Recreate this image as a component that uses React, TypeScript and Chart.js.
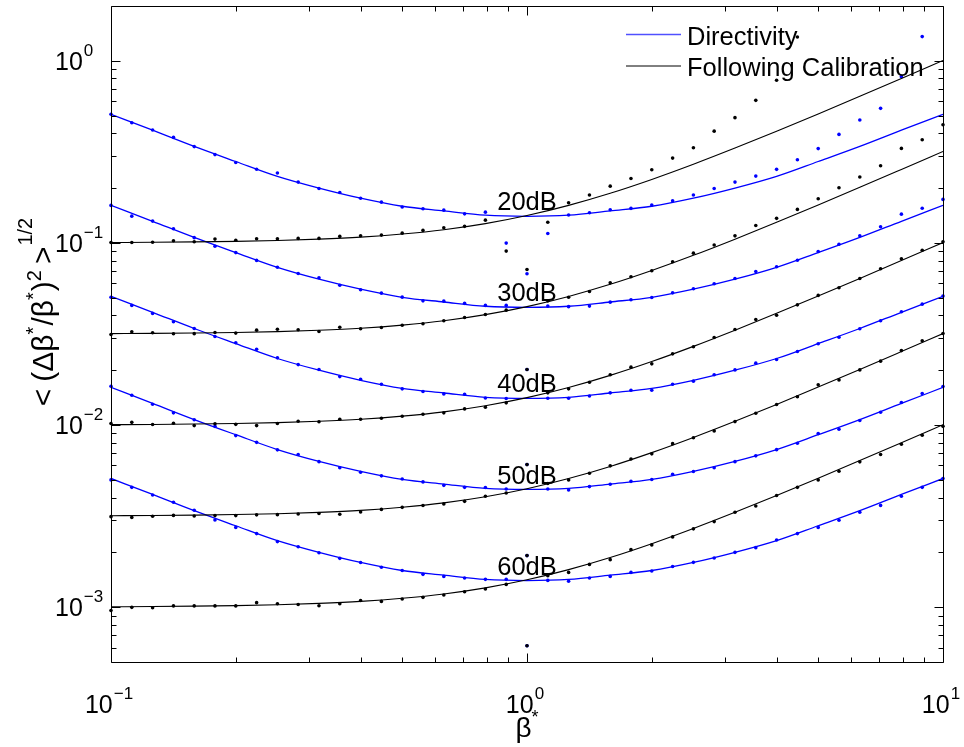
import React, { useEffect, useRef } from "react";
import { Chart, registerables } from "chart.js";

Chart.register(...registerables);

const FONT = '"Liberation Sans", Arial, Helvetica, sans-serif';

// ---------- axis ranges & tick labels ----------
const X_MIN = 0.1;
const X_MAX = 10;
const Y_MIN = 0.0005;
const Y_MAX = 2;
const X_MAJOR = [0.1, 1, 10];
const X_EXP = ["\u22121", "0", "1"];
const Y_MAJOR = [0.001, 0.01, 0.1, 1];
const Y_EXP = ["\u22123", "\u22122", "\u22121", "0"];

// ---------- sample positions ----------
const X_DOTS = [0.1, 0.1122, 0.1259, 0.1413, 0.1585, 0.1778, 0.1995, 0.2239, 0.2512, 0.2818, 0.3162, 0.3548, 0.3981, 0.4467, 0.5012, 0.5623, 0.631, 0.7079, 0.7943, 0.8913, 1, 1.122, 1.259, 1.413, 1.585, 1.778, 1.995, 2.239, 2.512, 2.818, 3.162, 3.548, 3.981, 4.467, 5.012, 5.623, 6.31, 7.079, 7.943, 8.913, 10];
const X_LINE = [0.1, 0.1259, 0.1585, 0.1995, 0.2512, 0.3162, 0.3981, 0.5012, 0.631, 0.7943, 1, 1.259, 1.585, 1.995, 2.512, 3.162, 3.981, 5.012, 6.31, 7.943, 10];

// ---------- Directivity (blue) curves ----------
const BLUE_LINE_20 = [0.509, 0.416, 0.339, 0.28, 0.232, 0.2, 0.176, 0.159, 0.15, 0.142, 0.14, 0.142, 0.15, 0.159, 0.176, 0.2, 0.232, 0.28, 0.339, 0.416, 0.509];
const BLUE_LINE_30 = [0.161, 0.1315, 0.1072, 0.0885, 0.0734, 0.0632, 0.0557, 0.0503, 0.0474, 0.0449, 0.0443, 0.0449, 0.0474, 0.0503, 0.0557, 0.0632, 0.0734, 0.0885, 0.1072, 0.1315, 0.161];
const BLUE_LINE_40 = [0.0509, 0.0416, 0.0339, 0.028, 0.0232, 0.02, 0.0176, 0.0159, 0.015, 0.0142, 0.014, 0.0142, 0.015, 0.0159, 0.0176, 0.02, 0.0232, 0.028, 0.0339, 0.0416, 0.0509];
const BLUE_LINE_50 = [0.0161, 0.01315, 0.01072, 0.00885, 0.00734, 0.00632, 0.00557, 0.00503, 0.00474, 0.00449, 0.00443, 0.00449, 0.00474, 0.00503, 0.00557, 0.00632, 0.00734, 0.00885, 0.01072, 0.01315, 0.0161];
const BLUE_LINE_60 = [0.00509, 0.00416, 0.00339, 0.0028, 0.00232, 0.002, 0.00176, 0.00159, 0.0015, 0.00142, 0.0014, 0.00142, 0.0015, 0.00159, 0.00176, 0.002, 0.00232, 0.0028, 0.00339, 0.00416, 0.00509];

// ---------- Following Calibration (black) curves ----------
const BLACK_LINE_20 = [0.1005, 0.1008, 0.1013, 0.102, 0.1031, 0.1049, 0.1076, 0.1119, 0.1182, 0.1277, 0.1414, 0.1608, 0.1874, 0.2232, 0.2704, 0.3317, 0.4105, 0.5111, 0.6388, 0.8006, 1.005];
const BLACK_LINE_30 = [0.03178, 0.03187, 0.03203, 0.03225, 0.0326, 0.03317, 0.03402, 0.03538, 0.03738, 0.04038, 0.04471, 0.05085, 0.05926, 0.07058, 0.0855, 0.1049, 0.1298, 0.1616, 0.202, 0.2532, 0.3178];
const BLACK_LINE_40 = [0.01005, 0.01008, 0.01013, 0.0102, 0.01031, 0.01049, 0.01076, 0.01119, 0.01182, 0.01277, 0.01414, 0.01608, 0.01874, 0.02232, 0.02704, 0.03317, 0.04105, 0.05111, 0.06388, 0.08006, 0.1005];
const BLACK_LINE_50 = [0.003178, 0.003187, 0.003203, 0.003225, 0.00326, 0.003317, 0.003402, 0.003538, 0.003738, 0.004038, 0.004471, 0.005085, 0.005926, 0.007058, 0.00855, 0.01049, 0.01298, 0.01616, 0.0202, 0.02532, 0.03178];
const BLACK_LINE_60 = [0.001005, 0.001008, 0.001013, 0.00102, 0.001031, 0.001049, 0.001076, 0.001119, 0.001182, 0.001277, 0.001414, 0.001608, 0.001874, 0.002232, 0.002704, 0.003317, 0.004105, 0.005111, 0.006388, 0.008006, 0.01005];

// ---------- simulated points (blue) ----------
const BLUE_DOTS_20 = [0.509, 0.457, 0.417, 0.38, 0.338, 0.3055, 0.2767, 0.2541, 0.2421, 0.2158, 0.1991, 0.1892, 0.176, 0.1675, 0.1574, 0.1542, 0.1514, 0.1445, 0.1476, 0.0998, 0.000614, 0.1127, 0.1425, 0.1466, 0.1521, 0.1549, 0.1614, 0.1706, 0.1832, 0.1991, 0.2158, 0.2328, 0.2535, 0.2864, 0.3296, 0.3945, 0.4732, 0.5483, 0.8185, 1.358, 3.5];
const BLUE_DOTS_30 = [0.1607, 0.1403, 0.1318, 0.1197, 0.1069, 0.0959, 0.0885, 0.0802, 0.0736, 0.0679, 0.0644, 0.0586, 0.0553, 0.053, 0.0504, 0.0481, 0.0479, 0.0466, 0.0454, 0.0454, 0.0678, 0.045, 0.0447, 0.045, 0.0473, 0.0488, 0.0502, 0.0532, 0.056, 0.0597, 0.0638, 0.0697, 0.074, 0.0804, 0.0897, 0.0984, 0.1094, 0.1227, 0.1439, 0.1552, 0.1734];
const BLUE_DOTS_40 = [0.05035, 0.04539, 0.04102, 0.0369, 0.03388, 0.03062, 0.02831, 0.02606, 0.02339, 0.02148, 0.02018, 0.01845, 0.01786, 0.01675, 0.01581, 0.01528, 0.01483, 0.01476, 0.01409, 0.014, 0.0202, 0.01403, 0.01403, 0.01445, 0.01503, 0.01552, 0.01552, 0.01675, 0.01742, 0.01888, 0.02009, 0.02188, 0.02291, 0.02535, 0.02793, 0.03034, 0.03381, 0.03741, 0.04188, 0.04613, 0.05105];
const BLUE_DOTS_50 = [0.01633, 0.01459, 0.013, 0.01167, 0.01069, 0.00984, 0.00875, 0.008035, 0.007311, 0.006887, 0.006295, 0.005834, 0.005508, 0.00526, 0.005058, 0.004875, 0.004667, 0.00455, 0.004539, 0.004457, 0.00607, 0.004457, 0.004406, 0.004592, 0.004732, 0.004909, 0.005023, 0.00537, 0.005559, 0.005834, 0.006295, 0.006776, 0.007328, 0.007943, 0.008974, 0.009484, 0.01059, 0.01175, 0.0133, 0.01489, 0.01629];
const BLUE_DOTS_60 = [0.005, 0.00455, 0.00413, 0.003767, 0.003404, 0.003013, 0.002742, 0.002535, 0.002291, 0.002148, 0.001991, 0.001854, 0.001758, 0.001656, 0.001589, 0.001514, 0.001476, 0.001445, 0.001422, 0.001422, 0.00192, 0.001403, 0.001387, 0.001445, 0.001476, 0.001552, 0.001581, 0.001671, 0.001762, 0.001862, 0.002, 0.002123, 0.002339, 0.002535, 0.002742, 0.002999, 0.003319, 0.003622, 0.004064, 0.00455, 0.005082];

// ---------- simulated points (black) ----------
const BLACK_DOTS_20 = [0.1005, 0.1006, 0.1008, 0.1028, 0.1016, 0.105, 0.1035, 0.1054, 0.1054, 0.1059, 0.1059, 0.1086, 0.1096, 0.1104, 0.1132, 0.1172, 0.1211, 0.1233, 0.1334, 0.0902, 0.000614, 0.13, 0.1663, 0.1832, 0.2051, 0.2259, 0.2523, 0.2924, 0.3334, 0.4111, 0.4875, 0.6067, 0.7816, 1.352, 2.5, 3.4, 4.5, 6, 8, 10, 12];
const BLACK_DOTS_30 = [0.03141, 0.03251, 0.03214, 0.0317, 0.03177, 0.03221, 0.03199, 0.03319, 0.03357, 0.03334, 0.03266, 0.03443, 0.03381, 0.03436, 0.03532, 0.03597, 0.03741, 0.03899, 0.04046, 0.04276, 0.0715, 0.04808, 0.05035, 0.05408, 0.06039, 0.06516, 0.07031, 0.07889, 0.0879, 0.0975, 0.1094, 0.1247, 0.1365, 0.1528, 0.175, 0.2009, 0.2301, 0.2655, 0.3304, 0.369, 0.4457];
const BLACK_DOTS_40 = [0.01019, 0.01035, 0.01007, 0.01023, 0.00993, 0.01016, 0.01009, 0.00993, 0.01019, 0.0105, 0.01042, 0.01076, 0.01076, 0.01089, 0.01117, 0.01146, 0.01167, 0.01227, 0.01253, 0.01324, 0.0202, 0.01503, 0.01581, 0.01718, 0.01888, 0.0208, 0.02168, 0.0246, 0.02692, 0.03027, 0.0335, 0.03802, 0.04009, 0.04571, 0.05152, 0.05675, 0.06383, 0.07211, 0.08185, 0.0912, 0.1016];
const BLACK_DOTS_50 = [0.003141, 0.003112, 0.003155, 0.003192, 0.00317, 0.003184, 0.003184, 0.003214, 0.003221, 0.003251, 0.003266, 0.003236, 0.003334, 0.003443, 0.003532, 0.003614, 0.00369, 0.003811, 0.004064, 0.004236, 0.006067, 0.004775, 0.005, 0.005433, 0.00597, 0.006516, 0.00695, 0.007907, 0.008511, 0.00929, 0.01045, 0.01161, 0.01297, 0.01429, 0.01663, 0.0177, 0.02009, 0.02244, 0.02564, 0.02904, 0.03184];
const BLACK_DOTS_60 = [0.000959, 0.000998, 0.000993, 0.001016, 0.001016, 0.001016, 0.001016, 0.001059, 0.001045, 0.001035, 0.001019, 0.001045, 0.001089, 0.001076, 0.001109, 0.001132, 0.001167, 0.001216, 0.001259, 0.001334, 0.001919, 0.001489, 0.001552, 0.001718, 0.001824, 0.00207, 0.002198, 0.002432, 0.002692, 0.002951, 0.003319, 0.003597, 0.004102, 0.00455, 0.005, 0.005572, 0.006281, 0.006887, 0.007852, 0.00879, 0.00984];

// ---------- annotations ----------
const DB_LABELS = ["20dB", "30dB", "40dB", "50dB", "60dB"];
const DB_LABEL_X = 1;
const DB_LABEL_Y = [0.151, 0.0477, 0.0151, 0.00477, 0.00151];
const LEGEND_LABELS = ["Directivity", "Following Calibration"];
const BLUE = "#0000ff";
const BLACK = "#000000";

const pts = (xs: number[], ys: number[]) => xs.map((x, i) => ({ x, y: ys[i] }));

function logTicks(min: number, max: number) {
  const out: { v: number; major: boolean }[] = [];
  const e0 = Math.floor(Math.log10(min));
  const e1 = Math.ceil(Math.log10(max));
  for (let e = e0; e <= e1; e++) {
    for (let m = 1; m < 10; m++) {
      const v = m * Math.pow(10, e);
      if (v >= min * 1.0001 && v <= max * 0.9999) out.push({ v, major: m === 1 });
      else if (m === 1 && Math.abs(v - min) / min < 1e-4) out.push({ v, major: true });
      else if (m === 1 && Math.abs(v - max) / max < 1e-4) out.push({ v, major: true });
    }
  }
  return out;
}

function drawPow(ctx: CanvasRenderingContext2D, x: number, baseline: number, exp: string, align: "center" | "left") {
  ctx.font = `25px ${FONT}`;
  const w1 = ctx.measureText("10").width;
  ctx.font = `17px ${FONT}`;
  const w2 = ctx.measureText(exp).width;
  const x0 = align === "center" ? x - (w1 + w2 + 1) / 2 : x;
  ctx.font = `25px ${FONT}`;
  ctx.fillText("10", x0, baseline);
  ctx.font = `17px ${FONT}`;
  ctx.fillText(exp, x0 + w1 + 1, baseline - 14);
}

// pieces: [text, font size, baseline shift, extra space after]
function drawPieces(ctx: CanvasRenderingContext2D, pieces: [string, number, number, number][], cx: number, baseline: number) {
  let total = 0;
  for (const [t, size, , gap] of pieces) {
    ctx.font = `${size}px ${FONT}`;
    total += ctx.measureText(t).width + gap;
  }
  let x = cx - total / 2;
  for (const [t, size, dy, gap] of pieces) {
    ctx.font = `${size}px ${FONT}`;
    ctx.fillText(t, x, baseline + dy);
    x += ctx.measureText(t).width + gap;
  }
}

const decor = {
  id: "decor",
  afterDraw(chart: any) {
    const ctx: CanvasRenderingContext2D = chart.ctx;
    const a = chart.chartArea;
    const xs = chart.scales.x;
    const ys = chart.scales.y;
    const L = Math.floor(a.left) + 0.5;
    const R = Math.floor(a.right) + 0.5;
    const T = Math.floor(a.top) + 0.5;
    const B = Math.floor(a.bottom) + 0.5;
    ctx.save();
    ctx.strokeStyle = "#000";
    ctx.lineWidth = 1;
    ctx.beginPath();
    ctx.rect(L, T, R - L, B - T);
    ctx.stroke();

    ctx.beginPath();
    for (const t of logTicks(X_MIN, X_MAX)) {
      const p = Math.round(xs.getPixelForValue(t.v)) + 0.5;
      const len = t.major ? 9 : 5;
      ctx.moveTo(p, B);
      ctx.lineTo(p, B - len);
      ctx.moveTo(p, T);
      ctx.lineTo(p, T + len);
    }
    for (const t of logTicks(Y_MIN, Y_MAX)) {
      const p = Math.round(ys.getPixelForValue(t.v)) + 0.5;
      const len = t.major ? 9 : 5;
      ctx.moveTo(L, p);
      ctx.lineTo(L + len, p);
      ctx.moveTo(R, p);
      ctx.lineTo(R - len, p);
    }
    ctx.stroke();

    ctx.fillStyle = "#000";
    ctx.textBaseline = "alphabetic";
    ctx.textAlign = "left";

    // tick labels
    X_MAJOR.forEach((v, i) => drawPow(ctx, xs.getPixelForValue(v) - 2, a.bottom + 51, X_EXP[i], "center"));
    Y_MAJOR.forEach((v, i) => drawPow(ctx, 55, ys.getPixelForValue(v) + 9, Y_EXP[i], "left"));

    // curve labels
    ctx.font = `25.5px ${FONT}`;
    DB_LABELS.forEach((t, i) => {
      const w = ctx.measureText(t).width;
      ctx.fillText(t, xs.getPixelForValue(DB_LABEL_X) - w / 2, ys.getPixelForValue(DB_LABEL_Y[i]));
    });

    // legend
    const lx0 = a.right - 317;
    const lx1 = a.right - 262;
    const rows = [a.top + 28.5, a.top + 60];
    const cols = ["#5050ff", BLACK];
    LEGEND_LABELS.forEach((t, i) => {
      ctx.strokeStyle = cols[i];
      ctx.lineWidth = i === 0 ? 1.5 : 1;
      ctx.beginPath();
      ctx.moveTo(lx0, rows[i]);
      ctx.lineTo(lx1, rows[i]);
      ctx.stroke();
      ctx.font = `25.5px ${FONT}`;
      ctx.fillText(t, a.right - 256, rows[i] + 10);
    });

    // x axis title
    drawPieces(ctx, [["\u03b2", 28, 0, 0], ["*", 18, -14, 0]], (a.left + a.right) / 2, a.bottom + 75);

    // y axis title (rotated)
    ctx.save();
    ctx.translate(53, 312);
    ctx.rotate(-Math.PI / 2);
    drawPieces(
      ctx,
      [
        ["<", 30, 0, 7],
        ["(\u0394\u03b2", 30, 0, 0],
        ["*", 20, -13, 1],
        ["/\u03b2", 30, 0, 0],
        ["*", 20, -13, 1],
        [")", 30, 0, 0],
        ["2", 20, -12, 6],
        [">", 30, 0, 1],
        ["1/2", 20, -21, 0],
      ],
      0,
      0
    );
    ctx.restore();
    ctx.restore();
  },
};

export default function App() {
  const ref = useRef<HTMLCanvasElement>(null);
  useEffect(() => {
    const canvas = ref.current;
    if (!canvas) return;
    const blueLines = [BLUE_LINE_20, BLUE_LINE_30, BLUE_LINE_40, BLUE_LINE_50, BLUE_LINE_60];
    const blackLines = [BLACK_LINE_20, BLACK_LINE_30, BLACK_LINE_40, BLACK_LINE_50, BLACK_LINE_60];
    const blueDots = [BLUE_DOTS_20, BLUE_DOTS_30, BLUE_DOTS_40, BLUE_DOTS_50, BLUE_DOTS_60];
    const blackDots = [BLACK_DOTS_20, BLACK_DOTS_30, BLACK_DOTS_40, BLACK_DOTS_50, BLACK_DOTS_60];
    const datasets: any[] = [];
    DB_LABELS.forEach((lab, i) => {
      datasets.push({
        label: `${LEGEND_LABELS[0]} ${lab}`,
        data: pts(X_LINE, blueLines[i]),
        showLine: true,
        borderColor: BLUE,
        borderWidth: 1.3,
        pointRadius: 0,
        cubicInterpolationMode: "monotone",
        order: 4,
      });
      datasets.push({
        label: `${LEGEND_LABELS[0]} points ${lab}`,
        data: pts(X_DOTS, blueDots[i]),
        showLine: false,
        pointRadius: 1.8,
        pointBorderWidth: 0,
        pointBackgroundColor: BLUE,
        pointBorderColor: BLUE,
        clip: 4,
        order: 3,
      });
      datasets.push({
        label: `${LEGEND_LABELS[1]} ${lab}`,
        data: pts(X_LINE, blackLines[i]),
        showLine: true,
        borderColor: BLACK,
        borderWidth: 1.1,
        pointRadius: 0,
        cubicInterpolationMode: "monotone",
        order: 2,
      });
      datasets.push({
        label: `${LEGEND_LABELS[1]} points ${lab}`,
        data: pts(X_DOTS, blackDots[i]),
        showLine: false,
        pointRadius: 1.8,
        pointBorderWidth: 0,
        pointBackgroundColor: BLACK,
        pointBorderColor: BLACK,
        clip: 4,
        order: 1,
      });
    });

    const chart = new Chart(canvas, {
      type: "scatter",
      data: { datasets },
      options: {
        animation: false,
        responsive: false,
        devicePixelRatio: 1,
        events: [],
        layout: { padding: { left: 111, right: 21, top: 6, bottom: 85 } },
        plugins: { legend: { display: false }, tooltip: { enabled: false } },
        scales: {
          x: { type: "logarithmic", min: X_MIN, max: X_MAX, display: false },
          y: { type: "logarithmic", min: Y_MIN, max: Y_MAX, display: false },
        },
      },
      plugins: [decor],
    } as any);
    return () => chart.destroy();
  }, []);

  return (
    <div style={{ position: "fixed", left: 0, top: 0, width: 964, height: 747, background: "#fff" }}>
      <canvas ref={ref} width={964} height={747} style={{ display: "block", width: 964, height: 747 }} />
    </div>
  );
}
